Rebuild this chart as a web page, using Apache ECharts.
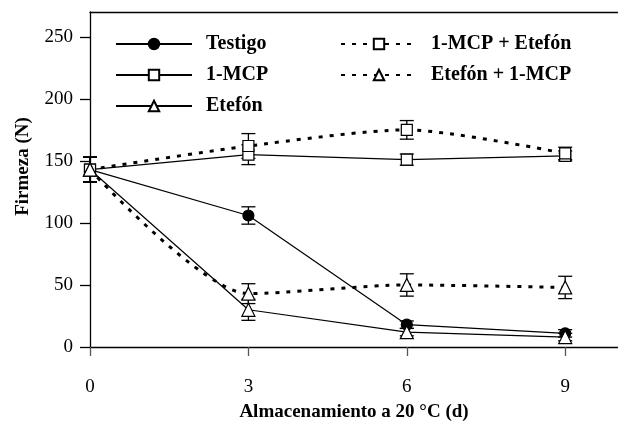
<!DOCTYPE html>
<html>
<head>
<meta charset="utf-8">
<script src="https://cdn.jsdelivr.net/npm/echarts@6/dist/echarts.min.js"></script>
<style>
  html, body { margin: 0; padding: 0; background: #fff; }
  #chart { width: 618px; height: 424px; }
</style>
</head>
<body>
<div id="chart"></div>
<script>
// dias de almacenamiento
var days = [0, 3, 6, 9];
var xTicks = [0, 3, 6, 9];
var yTicks = [0, 50, 100, 150, 200, 250];

// firmeza (N) y error
var testigo = [143, 106, 18, 11];
var testigoErr = [10, 7, 3, 3];
var mcp = [143, 155, 151, 154];
var mcpErr = [10, 8, 4.5, 4];
var etefon = [143, 30, 12, 8];
var etefonErr = [10, 8.5, 3, 3];
var mcpEtefon = [143, 162, 175, 156];
var mcpEtefonErr = [10, 10, 7.5, 5];
var etefonMcp = [143, 43, 50, 48];
var etefonMcpErr = [10, 8, 9, 9];

var serif = 'Liberation Serif';

function pairs(vals) {
  return days.map(function (d, i) { return [d, vals[i]]; });
}

function errorSeries(vals, errs) {
  return {
    type: 'custom',
    silent: true,
    z: 1,
    data: days.map(function (d, i) { return [d, vals[i] - errs[i], vals[i] + errs[i]]; }),
    renderItem: function (params, api) {
      var lo = api.coord([api.value(0), api.value(1)]);
      var hi = api.coord([api.value(0), api.value(2)]);
      var w = 7;
      var st = { stroke: '#000', lineWidth: 1.3 };
      return {
        type: 'group',
        children: [
          { type: 'line', shape: { x1: lo[0], y1: lo[1], x2: hi[0], y2: hi[1] }, style: st },
          { type: 'line', shape: { x1: lo[0] - w, y1: lo[1], x2: lo[0] + w, y2: lo[1] }, style: st },
          { type: 'line', shape: { x1: hi[0] - w, y1: hi[1], x2: hi[0] + w, y2: hi[1] }, style: st }
        ]
      };
    }
  };
}

function lineSeries(name, vals, symbol, fill, dashed, smooth) {
  return {
    name: name,
    type: 'line',
    z: 3,
    data: pairs(vals),
    symbol: symbol,
    symbolSize: symbol === 'triangle' ? 13 : 11,
    smooth: smooth || false,
    itemStyle: { color: fill, borderColor: '#000', borderWidth: 1.2 },
    lineStyle: dashed
      ? { color: '#000', width: 3, type: [4, 7] }
      : { color: '#000', width: 1.2 }
  };
}

var legendText = { fontFamily: serif, fontWeight: 'bold', fontSize: 20, color: '#000', padding: [0, 0, 0, 9] };

var chart = echarts.init(document.getElementById('chart'));
chart.setOption({
  backgroundColor: '#fff',
  animation: false,
  grid: { left: 90, right: 0, top: 12, bottom: 77, outerBoundsMode: 'none' },
  legend: [{
    orient: 'vertical',
    left: 110,
    top: 29,
    itemWidth: 76,
    itemHeight: 13,
    itemGap: 11,
    textStyle: legendText,
    data: ['Testigo', '1-MCP', 'Etefón']
  }, {
    orient: 'vertical',
    left: 335,
    top: 29,
    itemWidth: 76,
    itemHeight: 13,
    itemGap: 11,
    textStyle: legendText,
    data: ['1-MCP + Etefón', 'Etefón + 1-MCP']
  }],
  xAxis: [{
    type: 'value',
    min: 0,
    max: 10,
    name: 'Almacenamiento a 20 °C (d)',
    nameLocation: 'middle',
    nameGap: 56,
    nameTextStyle: { fontFamily: serif, fontWeight: 'bold', fontSize: 19, color: '#000' },
    splitLine: { show: false },
    axisLine: { lineStyle: { color: '#000', width: 1.3 } },
    axisTick: { length: 9, customValues: xTicks, lineStyle: { color: '#555', width: 1.3 } },
    axisLabel: { customValues: xTicks, margin: 31, fontFamily: serif, fontSize: 19, color: '#000' }
  }, {
    type: 'value',
    position: 'top',
    min: 0,
    max: 10,
    axisLine: { show: true, lineStyle: { color: '#000', width: 1.3 } },
    axisTick: { show: false },
    axisLabel: { show: false },
    splitLine: { show: false }
  }],
  yAxis: {
    type: 'value',
    min: 0,
    max: 270,
    name: 'Firmeza (N)',
    nameLocation: 'middle',
    nameGap: 57,
    nameTextStyle: { fontFamily: serif, fontWeight: 'bold', fontSize: 19, color: '#000', padding: [0, 0, 0, 26] },
    splitLine: { show: false },
    axisLine: { lineStyle: { color: '#000', width: 1.3 } },
    axisTick: { length: 10, customValues: yTicks, lineStyle: { color: '#000', width: 1.3 } },
    axisLabel: { customValues: yTicks, margin: 17, fontFamily: serif, fontSize: 19, color: '#000' }
  },
  series: [
    errorSeries(testigo, testigoErr),
    errorSeries(mcp, mcpErr),
    errorSeries(etefon, etefonErr),
    errorSeries(mcpEtefon, mcpEtefonErr),
    errorSeries(etefonMcp, etefonMcpErr),
    lineSeries('Testigo', testigo, 'circle', '#000', false),
    lineSeries('1-MCP', mcp, 'rect', '#fff', false),
    lineSeries('1-MCP + Etefón', mcpEtefon, 'rect', '#fff', true, 0.25),
    lineSeries('Etefón', etefon, 'triangle', '#fff', false),
    lineSeries('Etefón + 1-MCP', etefonMcp, 'triangle', '#fff', true, 0.25)
  ]
});
</script>
</body>
</html>
